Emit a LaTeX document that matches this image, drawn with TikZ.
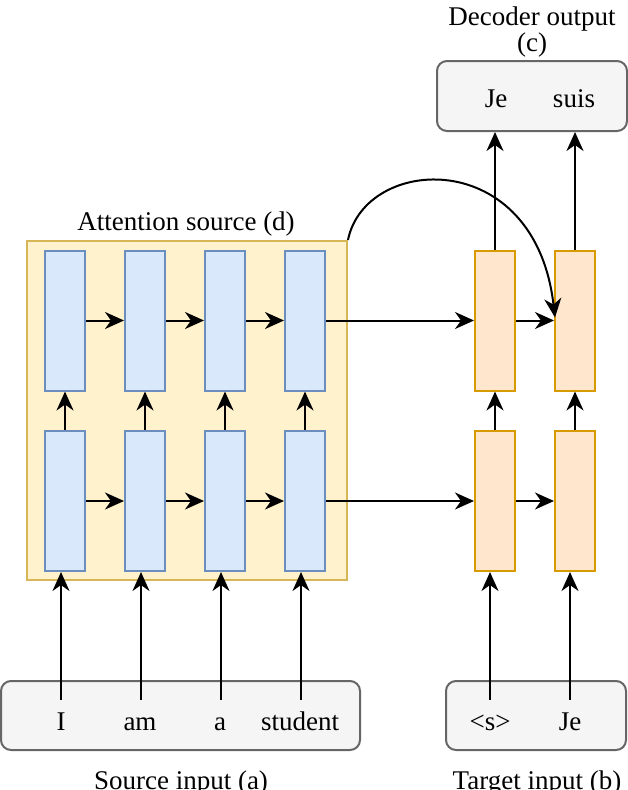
\documentclass[tikz,border=0pt]{standalone}
\usepackage{fontspec}
\setmainfont{Liberation Serif}
\usetikzlibrary{arrows.meta,calc}
\definecolor{attfill}{HTML}{FFF2CC}
\definecolor{attdraw}{HTML}{D6B656}
\definecolor{encfill}{HTML}{DAE8FC}
\definecolor{encdraw}{HTML}{6C8EBF}
\definecolor{decfill}{HTML}{FFE6CC}
\definecolor{decdraw}{HTML}{D79B00}
\definecolor{iofill}{HTML}{F5F5F5}
\definecolor{iodraw}{HTML}{666666}
\tikzset{
  attbox/.style={draw=attdraw,fill=attfill,line width=2pt,minimum width=320pt,minimum height=339pt,inner sep=0pt},
  encbox/.style={draw=encdraw,fill=encfill,line width=2pt,minimum width=40pt,minimum height=140pt,inner sep=0pt},
  decbox/.style={draw=decdraw,fill=decfill,line width=2pt,minimum width=40pt,minimum height=140pt,inner sep=0pt},
  iobox/.style={draw=iodraw,fill=iofill,line width=2pt,rounded corners=10pt,minimum height=69pt,inner sep=0pt},
  txt/.style={anchor=base,inner sep=0pt},
  arr/.style={line width=2pt,-{Stealth[length=19pt,width=17pt,inset=6pt]}},
}
\begin{document}
\begin{tikzpicture}[x=1pt,y=-1pt,font=\fontsize{27}{31}\selectfont]
\useasboundingbox (0,0) rectangle (628,790);
% boxes
\node[attbox] (att) at (187,410.5) {};
\node[iobox,minimum width=359pt] (src) at (180.5,715.5) {};
\node[iobox,minimum width=180pt] (tgt) at (536,715.5) {};
\node[iobox,minimum width=190pt,minimum height=70pt] (dec) at (532,96) {};
% encoder cells
\node[encbox] (e11) at (65,320.5) {};
\node[encbox] (e12) at (145,320.5) {};
\node[encbox] (e13) at (225,320.5) {};
\node[encbox] (e14) at (305,320.5) {};
\node[encbox] (e21) at (65,501) {};
\node[encbox] (e22) at (145,501) {};
\node[encbox] (e23) at (225,501) {};
\node[encbox] (e24) at (305,501) {};
% decoder cells
\node[decbox] (d11) at (495,320.5) {};
\node[decbox] (d12) at (575,320.5) {};
\node[decbox] (d21) at (495,501) {};
\node[decbox] (d22) at (575,501) {};
% texts
\node[txt] (tI) at (61,730) {I};
\node[txt] (tam) at (140,730) {am};
\node[txt] (ta) at (220,730) {a};
\node[txt] (tstudent) at (300,730) {student};
\node[txt] (ts) at (490,730) {<s>};
\node[txt] (tJe) at (570,730) {Je};
\node[txt] (oJe) at (496,107) {Je};
\node[txt] (osuis) at (574,107) {suis};
\node[txt] (lblc1) at (532,25) {Decoder output};
\node[txt] (lblc2) at (532,51) {(c)};
\node[txt] (lbld) at (186,230) {Attention source (d)};
\node[txt] (lbla) at (181,789) {Source input (a)};
\node[txt] (lblb) at (537,789) {Target input (b)};
% input arrow starts
\coordinate (s1) at (61,700);
\coordinate (s2) at (141,700);
\coordinate (s3) at (221,700);
\coordinate (s4) at (301,700);
\coordinate (s5) at (490,700);
\coordinate (s6) at (570,700);
\draw[arr] (s1) -- (s1 |- e21.south);
\draw[arr] (s2) -- (s2 |- e22.south);
\draw[arr] (s3) -- (s3 |- e23.south);
\draw[arr] (s4) -- (s4 |- e24.south);
\draw[arr] (s5) -- (s5 |- d21.south);
\draw[arr] (s6) -- (s6 |- d22.south);
% vertical between layers
\draw[arr] (e21.north) -- (e11.south);
\draw[arr] (e22.north) -- (e12.south);
\draw[arr] (e23.north) -- (e13.south);
\draw[arr] (e24.north) -- (e14.south);
\draw[arr] (d21.north) -- (d11.south);
\draw[arr] (d22.north) -- (d12.south);
% outputs
\draw[arr] (d11.north) -- (d11.north |- dec.south);
\draw[arr] (d12.north) -- (d12.north |- dec.south);
% horizontal
\draw[arr] (e11.east) -- (e12.west);
\draw[arr] (e12.east) -- (e13.west);
\draw[arr] (e13.east) -- (e14.west);
\draw[arr] (e14.east) -- (d11.west);
\draw[arr] (d11.east) -- (d12.west);
\draw[arr] (e21.east) -- (e22.west);
\draw[arr] (e22.east) -- (e23.west);
\draw[arr] (e23.east) -- (e24.west);
\draw[arr] (e24.east) -- (d21.west);
\draw[arr] (d21.east) -- (d22.west);
% attention curve
\draw[arr] (att.north east) .. controls (365,155) and (535,145) .. ($(d12.west)+(1,-3)$);
\end{tikzpicture}
\end{document}
